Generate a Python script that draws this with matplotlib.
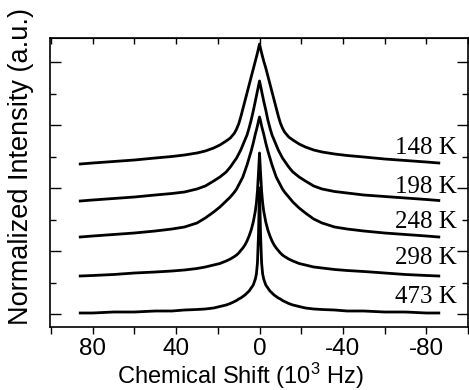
#!/usr/bin/env python3
"""Temperature dependent NMR line shapes, stacked"""
import numpy as np, matplotlib
matplotlib.use('Agg')
import matplotlib.pyplot as plt
from matplotlib.ticker import MultipleLocator

plt.rcParams.update({'font.family': ['Liberation Sans', 'DejaVu Sans'],
                     'mathtext.default': 'regular', 'axes.unicode_minus': False})

# chemical shift (10^3 Hz), shared by all spectra
shift = [86, 80, 70, 60, 50, 42, 36, 30, 26, 22, 19, 16, 14, 12, 11, 10, 9, 8, 7, 6, 5, 4, 3, 2, 1.5, 1, 0.5, 0,
         -0.5, -1, -1.5, -2, -3, -4, -5, -6, -7, -8, -9, -10, -11, -12, -14, -16, -19, -22, -26, -30, -36, -42,
         -50, -60, -70, -80, -86]

# intensity above each trace's baseline (a.u.)
i148 = [0, 1, 2.5, 4, 6, 7.5, 9, 11, 13, 16, 19, 23, 26, 31, 35, 40, 47, 55, 63, 71, 79, 87, 95, 103, 107, 111, 115.5, 120,
        115.5, 111, 107, 103, 96, 88, 80, 72, 64, 56, 48, 41, 36, 32, 27, 24, 20, 17, 14, 12, 10, 8.5,
        7, 5, 3.5, 2, 1]
i198 = [0, 1, 2.5, 4, 6, 7.5, 9, 12, 15, 20, 24, 29, 34, 40, 43, 47, 51, 56, 61, 66, 73, 81, 90, 100, 105, 110, 115, 120,
        115, 110, 105, 100, 91, 81, 73, 66, 61, 56, 51, 47, 43, 40, 34, 29, 24, 20, 15, 12, 9.5, 8,
        6, 4.5, 3, 1.5, 0.5]
i248 = [0, 1, 2.5, 4, 6, 8, 10, 14, 19, 25, 30, 36, 40, 45, 48, 52, 56, 60, 66, 72, 79, 86, 94, 103, 107, 111, 116, 120,
        116, 111, 107, 103, 94, 86, 79, 72, 66, 60, 56, 52, 48, 45, 40, 35, 29, 24, 18, 14, 10, 8,
        6, 4, 2.5, 1, 0]
i298 = [0, 0.5, 1.5, 3, 4, 5, 6, 7.5, 9, 11, 12.5, 15, 17, 19.5, 21, 23, 25.5, 28, 31, 35, 40, 46, 54, 65, 73, 85, 103, 123,
        103, 85, 73, 65, 54, 46, 40, 35, 31, 28, 25.5, 23, 21, 19.5, 17, 15, 12.5, 11, 9, 8, 6.5, 5.5,
        4.5, 3, 1.5, 0.5, 0]
i473 = [0, 0, 1, 1, 2, 2, 3, 3.5, 4, 5, 6.5, 8, 9.5, 11.5, 12.5, 14, 15, 16.5, 18, 20, 22, 25, 28, 34, 39, 50, 78, 125,
        78, 50, 39, 34, 28, 25, 22, 20, 18, 16.5, 15, 14, 12.5, 11.5, 9.5, 8, 6.5, 5, 4, 3.5, 3, 2,
        2, 1, 1, 0, 0]

spectra = [i148, i198, i248, i298, i473]
offsets = [163, 126, 90, 51, 14]
labels = ['148 K', '198 K', '248 K', '298 K', '473 K']
label_y = [179, 140, 105, 69, 30]

fig = plt.figure(figsize=(4.69, 3.9), dpi=100)
ax = fig.add_axes([50/469, 1 - 327/390, 418/469, 289/390])

for y, off in zip(spectra, offsets):
    ax.plot(shift, np.array(y) + off, color='black', lw=2.0, solid_joinstyle='round')

for txt, ly in zip(labels, label_y):
    ax.text(-94.5, ly, txt, ha='right', va='center', fontsize=18,
            family=['Liberation Serif', 'DejaVu Serif'])

ax.set_xlim(100.5, -100)
ax.set_ylim(0, 289)
ax.xaxis.set_major_locator(MultipleLocator(40))
ax.xaxis.set_minor_locator(MultipleLocator(20))
ax.set_yticks([13 + 63 * k for k in range(5)])
ax.set_yticks([44.5 + 63 * k for k in range(4)], minor=True)
ax.set_yticklabels([])

ax.tick_params(axis='x', which='both', direction='out', top=False, length=5, width=1,
               labelsize=17.5, pad=3)
ax.tick_params(axis='y', which='major', direction='in', left=True, right=True, length=8, width=1)
ax.tick_params(axis='y', which='minor', direction='in', left=True, right=True, length=4, width=1)
sec = ax.secondary_xaxis('top')
sec.xaxis.set_major_locator(MultipleLocator(20))
sec.tick_params(direction='in', length=4, width=1, labeltop=False)

for s in ax.spines.values():
    s.set_linewidth(1.2)

ax.set_xlabel('Chemical Shift (10$^{3}$ Hz)', fontsize=17, va='center')
ax.set_ylabel('Normalized Intensity (a.u.)', fontsize=19.5, va='center')
ax.xaxis.set_label_coords(0.455, -0.170)
ax.yaxis.set_label_coords(-0.070, 0.554)

plt.savefig('out.png', dpi=100)
plt.close()
